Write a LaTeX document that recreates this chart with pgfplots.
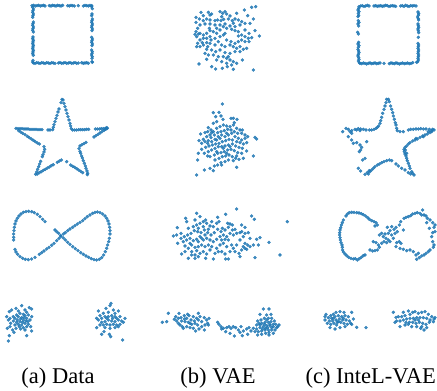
\documentclass[border=0pt]{standalone}
\usepackage{pgfplots}
\pgfplotsset{compat=1.18}
\usepackage{fontspec}
\setmainfont{Liberation Serif}
\definecolor{c0}{HTML}{1F77B4}
\pgfplotsset{
  panel/.style n args={6}{anchor=north west, at={(#1pt,391pt-#2pt)}, scale only axis,
    width=#3pt, height=#4pt, xmin=0, xmax=#5, ymin=0, ymax=#6, y dir=reverse,
    hide axis, clip=false},
  pts/.style={only marks, mark=*, mark size=1.5pt, color=c0, opacity=0.85}
}
\begin{document}
\begin{tikzpicture}
\path[use as bounding box] (0,0) rectangle (437pt,391pt);
\clip (0,0) rectangle (437pt,391pt);
% ---------- Row 1: square ----------
\begin{axis}[panel={0}{0}{145}{90}{435}{270}]
\addplot[pts] coordinates {
(96,17)(101,16)(106,18)(111,17)(116,16)(121,18)(126,17)(131,16)(135,18)(148,17)(153,18)(158,16)(163,17)(168,18)(173,16)(178,17)(183,18)(188,16)(203,17)(208,18)(213,16)(218,17)(223,18)(235,17)(250,18)(255,16)(260,17)(265,18)(270,16)(275,17)
(98,22)(100,27)(99,32)(98,37)(100,42)(99,47)(98,52)(100,66)(99,71)(98,76)(100,81)(99,86)(98,91)(100,96)(99,111)(98,116)(100,121)(99,126)(98,131)(100,136)(99,141)(98,146)(100,151)(99,156)(98,161)(100,166)(99,181)(98,186)
(100,189)(105,190)(110,188)(115,189)(120,190)(125,188)(130,189)(135,190)(140,188)(145,189)(150,190)(155,188)(160,189)(165,190)(175,189)(180,188)(185,190)(190,189)(195,188)(200,190)(205,189)(210,188)(215,190)(220,189)(225,188)(230,190)(235,189)(245,188)(250,190)(255,189)(260,188)(265,190)(277,187)
(275,20)(277,26)(276,42)(275,47)(277,57)(276,62)(275,67)(277,72)(276,77)(275,82)(277,87)(276,92)(275,112)(277,117)(276,122)(275,127)(277,132)(276,137)(275,150)(277,155)(276,160)(275,165)(277,170)(276,175)(276,185)
};
\end{axis}
\begin{axis}[panel={145}{0}{145}{90}{435}{270}]
\addplot[pts] coordinates {
(168,37)(190,37)(200,42)(225,35)(240,35)(245,42)(233,40)(275,40)(298,30)(320,22)(332,20)(308,47)(325,57)(315,70)(330,92)(343,108)(153,52)(175,47)(163,57)(153,67)(185,57)(195,60)(210,62)(218,60)(228,62)(236,58)(250,57)(262,62)(270,57)(280,60)(290,65)(300,70)(285,75)(270,80)(255,78)(240,72)(225,75)(210,75)(195,72)(180,72)(165,75)(158,85)(153,95)(150,103)(155,110)(165,100)(175,105)(185,100)(195,92)(205,95)(215,100)(225,90)(235,80)(245,85)(260,88)(270,92)(280,95)(290,105)(300,110)(310,115)(320,113)(312,125)(300,125)(290,120)(280,125)(270,130)(258,125)(245,120)(235,105)(240,100)(225,110)(210,115)(195,110)(185,115)(175,115)(165,120)(158,130)(155,140)(165,140)(175,135)(185,128)(195,130)(210,135)(220,125)(230,135)(240,140)(255,135)(265,140)(275,145)(285,140)(295,148)(305,145)(285,155)(270,155)(255,160)(240,158)(225,150)(212,155)(200,150)(185,148)(180,160)(190,165)(205,165)(220,170)(235,170)(245,175)(255,180)(265,185)(275,190)(260,195)(245,190)(230,185)(215,180)(185,178)(162,192)(200,200)(212,207)(232,205)(247,200)(265,208)(325,210)(292,180)(250,170)(198,120)(188,140)(172,128)(160,102)(193,85)(215,85)(230,50)(255,48)(265,70)(280,108)(300,90)(312,100)(195,45)(175,62)
};
\end{axis}
\begin{axis}[panel={290}{0}{147}{90}{441}{270}]
\addplot[pts] coordinates {
(207,20)(212,18)(217,17)(222,19)(227,18)(232,16)(237,18)(252,18)(257,17)(262,19)(267,18)(272,17)(277,19)(282,18)(287,16)(292,17)(297,19)(302,18)(307,17)(312,18)(317,19)(332,18)(337,17)(342,19)(347,16)(352,18)(357,19)(362,17)(367,18)(372,17)(378,18)
(206,25)(204,30)(207,35)(205,40)(206,46)(204,50)(205,62)(207,67)(204,72)(206,78)(203,97)(205,102)(206,127)(204,132)(207,137)(205,142)(204,148)(206,153)(207,158)(205,163)(204,168)(206,173)(207,178)(205,183)(208,188)
(210,190)(215,191)(220,189)(225,190)(230,192)(235,190)(240,189)(245,191)(250,190)(255,189)(260,191)(265,190)(270,189)(282,190)(298,191)(303,189)(308,190)(313,191)(318,189)(323,190)(328,192)(333,190)(338,189)(343,191)(348,190)(353,189)(358,191)(363,190)(368,188)(380,187)
(384,36)(386,41)(385,46)(383,51)(385,56)(386,60)(384,72)(385,77)(386,82)(384,87)(385,92)(386,98)(385,112)(384,130)(386,135)(385,140)(384,145)(386,150)(385,155)(384,160)(386,165)(385,170)(384,175)(385,180)(383,185)
};
\end{axis}
% ---------- Row 2: star ----------
\begin{axis}[panel={0}{90}{145}{100}{435}{300}]
\addplot[pts] coordinates {
(186,28)(183,38)(177,57)(174,66)(171,76)(168,85)(165,95)(162,104)(160,112)(158,119)
(189,30)(192,40)(195,50)(198,60)(201,70)(204,80)(207,90)(210,100)(212,108)(214,116)
(150,120)(144,120)(126,119)(120,119)(114,119)(108,118)(102,118)(96,118)(90,118)(84,117)(78,117)(72,117)(66,116)(60,116)(54,116)(48,115)
(218,120)(224,120)(230,120)(236,119)(242,119)(248,119)(254,119)(260,118)(266,118)(286,117)(292,117)(298,117)(304,116)(310,116)(316,115)(322,115)
(56,122)(62,126)(68,130)(75,134)(82,139)(88,143)(94,147)(100,151)(106,155)(112,159)(118,162)(132,170)
(134,178)(132,186)(129,194)(127,200)(122,214)(119,222)(116,230)(113,238)(110,246)(107,253)
(112,252)(118,248)(124,245)(130,241)(136,238)(142,234)(148,231)(154,227)(160,224)(172,217)(178,213)(184,210)(200,215)
(212,225)(218,229)(224,232)(230,236)(236,240)(242,244)(248,248)(262,254)
(263,250)(261,243)(258,235)(256,228)(253,220)(250,212)(247,204)(245,198)(242,190)(240,184)(237,176)
(240,168)(246,164)(252,161)(258,157)(282,141)(288,137)(294,133)(300,129)(306,125)(312,121)(318,117)(315,118)(320,113)
};
\end{axis}
\begin{axis}[panel={145}{90}{145}{100}{435}{300}]
\addplot[pts] coordinates {
(232,42)(205,68)(222,67)(212,80)(228,78)(234,88)(258,85)(265,85)(276,88)(268,98)(205,100)(215,95)(190,113)(198,120)(188,125)(167,132)(180,128)(195,135)(205,125)(215,115)(225,110)(235,105)(245,108)(255,110)(265,105)(275,115)(285,120)(292,120)(300,135)(290,130)(278,130)(268,125)(258,120)(248,118)(238,122)(228,125)(218,128)(208,135)(198,143)(185,140)(175,148)(162,152)(170,160)(180,155)(190,152)(200,155)(210,148)(220,140)(230,135)(240,140)(250,135)(260,130)(270,140)(280,145)(290,150)(300,145)(308,140)(330,142)(335,147)(305,158)(295,162)(285,158)(275,155)(262,150)(252,148)(242,152)(232,155)(222,160)(212,162)(202,165)(192,168)(182,172)(170,178)(160,190)(158,210)(178,190)(190,185)(200,180)(210,175)(220,170)(230,170)(240,168)(250,165)(262,162)(272,168)(282,172)(292,175)(305,183)(290,190)(278,188)(268,182)(258,178)(248,180)(238,185)(228,188)(218,190)(208,195)(195,200)(188,198)(210,210)(222,205)(232,200)(242,198)(252,195)(262,200)(272,205)(282,208)(295,205)(325,198)(265,212)(250,210)(240,215)(228,218)(218,225)(208,228)(195,235)(178,240)(205,242)(230,225)(275,232)(155,255)(245,130)(225,145)(235,175)(215,150)(255,170)(245,190)(200,128)(188,160)(275,198)(215,185)
};
\end{axis}
\begin{axis}[panel={290}{90}{147}{100}{441}{300}]
\addplot[pts] coordinates {
(290,28)(295,28)(288,38)(285,48)(282,58)(278,70)(275,82)(272,92)(270,100)(266,108)(262,112)
(298,35)(302,48)(305,58)(308,68)(310,78)(313,88)(316,98)(318,105)(320,115)(322,122)
(258,115)(252,118)(245,120)(238,120)(228,120)(220,118)(212,117)(205,116)(200,120)(195,118)(185,122)(175,118)(168,115)(158,125)(180,125)(210,122)
(330,125)(340,125)(355,120)(362,118)(370,118)(378,117)(385,117)(392,116)(400,117)(408,117)(418,118)(428,118)(432,120)
(425,125)(420,128)(412,132)(405,135)(398,138)(390,142)(382,147)(375,150)(368,153)(360,158)(355,162)(350,168)(345,172)(342,178)(425,122)(415,125)(400,140)(378,145)
(343,185)(345,192)(348,198)(350,205)(352,212)(355,220)(358,228)(360,235)(365,245)(368,250)(372,255)(350,190)(346,180)
(362,252)(355,248)(345,240)(335,235)(325,228)(318,222)(305,212)(298,210)(290,212)(282,215)
(275,218)(268,222)(262,225)(255,230)(250,235)(245,240)(238,242)(232,248)(225,253)(235,252)(240,245)(212,243)(205,235)
(185,150)(190,160)(200,158)(210,165)(215,172)(212,180)(208,185)(230,155)(218,210)(225,205)(185,130)(175,140)
};
\end{axis}
% ---------- Row 3: infinity ----------
\begin{axis}[panel={0}{190}{145}{90}{435}{270}]
\addplot[pts] coordinates {
(135,95)(128,88)(120,80)(112,73)(103,68)(95,65)(86,64)(78,65)(70,67)(63,72)(57,78)(52,85)(48,93)(45,102)(43,112)(42,122)(41,132)(41,142)(41,150)
(45,178)(48,186)(53,193)(60,200)(68,205)(76,208)(85,209)(95,207)(105,202)(118,193)(125,188)(132,183)(140,177)(147,172)(155,166)(162,160)(170,152)(177,145)(183,139)
(190,132)(196,128)(203,122)(210,117)(218,112)(225,107)(232,102)(240,97)(248,92)(255,86)(262,80)(270,75)(278,70)(285,67)(292,66)(300,68)(308,72)(315,78)(320,85)(324,93)(327,102)(329,112)(330,122)(330,132)(328,145)(326,155)(323,165)(320,175)(316,185)(311,195)(305,203)(298,208)(290,210)(282,209)(274,206)(266,202)(258,198)(250,193)(242,188)(234,182)(226,176)(218,170)(210,163)(203,157)(196,150)(190,144)(182,137)(176,130)(170,125)(165,120)
};
\end{axis}
\begin{axis}[panel={145}{190}{145}{90}{435}{270}]
\addplot[pts] coordinates {
(275,57)(242,73)(155,70)(122,85)(165,80)(182,90)(218,82)(320,78)(328,88)(97,113)(108,130)(85,138)(98,160)(110,192)(130,205)(150,205)(205,207)(242,207)(250,207)(285,200)(330,203)(405,195)(427,95)(372,157)(345,143)(340,165)(325,165)(335,148)(300,112)(290,105)(310,128)(295,140)(285,150)(300,160)(315,145)(275,165)(265,175)(255,185)(245,170)(235,160)(225,165)(215,175)(220,185)(210,190)(195,180)(185,192)(175,185)(165,190)(155,182)(150,195)(140,185)(130,175)(120,168)(115,155)(125,150)(135,145)(145,152)(155,148)(165,140)(175,150)(185,145)(195,150)(205,155)(215,148)(225,140)(235,135)(245,140)(255,130)(265,135)(275,130)(285,128)(262,120)(250,112)(240,120)(228,125)(218,118)(208,128)(198,135)(188,128)(178,120)(168,128)(158,125)(148,122)(138,130)(128,135)(118,140)(108,145)(95,135)(130,115)(145,110)(155,105)(165,100)(175,95)(185,100)(195,108)(205,110)(215,100)(222,95)(232,115)(248,100)(255,102)(262,105)(270,118)(290,125)(300,130)(308,165)(300,175)(295,170)(290,180)(305,178)(315,170)(282,190)(270,185)(260,165)(250,150)(240,148)(230,150)(200,170)(190,165)(180,170)(170,165)(160,170)(150,172)(140,165)(135,160)(160,155)(170,145)(180,135)(190,118)(200,95)(150,90)(125,95)(160,115)(175,110)(230,185)(240,192)(140,195)(160,200)(120,185)(182,205)
};
\end{axis}
\begin{axis}[panel={290}{190}{147}{90}{441}{270}]
\addplot[pts] coordinates {
(168,78)(172,72)(178,68)(185,67)(192,67)(200,68)(207,69)(214,71)(220,74)(227,78)(233,83)(238,88)(245,92)(252,95)(258,98)(262,105)(255,108)(160,90)(157,98)(154,105)(152,113)(150,120)(149,128)(149,135)(150,143)(151,150)(153,158)(156,165)(157,172)(158,180)(160,186)(165,192)(170,197)(176,202)(183,205)(190,207)(196,206)(202,210)(208,206)(214,202)(220,197)(225,195)
(240,180)(248,183)(255,182)(262,180)(268,172)(265,165)(250,155)(258,158)(275,160)(282,155)(290,158)(295,150)(288,145)(280,140)(285,132)(275,130)(268,135)(292,112)(305,110)(312,118)(300,122)(295,130)(305,135)(315,130)(322,125)(318,112)(328,105)(332,95)(342,85)(320,158)(328,155)(333,160)(340,120)(310,145)(300,155)
(348,82)(355,80)(362,77)(368,72)(375,70)(382,68)(390,70)(398,60)(395,75)(402,75)(408,78)(412,85)(420,90)(428,98)(435,105)(432,112)(435,125)(428,128)(425,140)(428,155)(432,165)(430,172)(420,180)(415,185)(408,190)(402,195)(395,198)(388,203)(380,208)(378,195)(385,190)(370,185)(360,180)(350,182)(340,178)(330,175)(318,170)(418,115)(410,98)
};
\end{axis}
% ---------- Row 4: two clusters ----------
\begin{axis}[panel={0}{285}{145}{60}{435}{180}]
\addplot[pts] coordinates {
(65,62)(48,70)(35,75)(28,80)(55,78)(75,75)(88,68)(95,72)(80,82)(70,88)(60,85)(50,90)(40,95)(30,100)(20,95)(25,105)(45,100)(55,95)(65,98)(75,92)(85,90)(95,95)(90,105)(80,100)(70,105)(60,110)(50,112)(40,108)(32,115)(45,120)(55,118)(65,120)(75,115)(85,118)(92,125)(80,125)(70,128)(58,125)(48,130)(38,135)(30,125)(22,130)(42,142)(75,135)(95,138)(80,152)(28,152)(25,168)(62,132)(68,112)(78,108)(52,105)(62,102)(72,98)(84,110)
(333,55)(330,62)(318,70)(295,78)(340,75)(355,78)(345,85)(325,82)(310,85)(300,92)(290,100)(305,100)(315,95)(325,95)(335,92)(345,95)(360,95)(375,100)(365,108)(355,105)(345,110)(335,108)(325,105)(315,110)(305,112)(295,105)(300,120)(310,120)(320,118)(330,120)(340,118)(350,120)(360,118)(370,112)(290,128)(315,128)(330,130)(345,128)(355,125)(305,148)(328,148)(332,155)(368,165)(320,100)(338,100)(350,100)(312,140)
};
\end{axis}
\begin{axis}[panel={145}{285}{145}{60}{435}{180}]
\addplot[pts] coordinates {
(52,112)(65,110)(70,85)(88,103)(95,108)(102,85)(100,115)(108,98)(112,125)(118,92)(125,100)(132,92)(138,105)(145,95)(155,100)(160,85)(165,95)(170,110)(178,98)(185,105)(192,100)(188,115)(180,120)(170,125)(158,120)(150,115)(140,118)(130,112)(120,110)(110,108)(105,120)(115,130)(125,125)(135,128)(145,130)(152,138)(162,132)(178,135)(190,120)(128,88)(148,108)(160,105)(118,102)(135,115)(100,100)(92,95)
(218,112)(222,118)(228,125)(235,130)(245,128)(252,125)(258,130)(265,125)(272,128)(242,140)(255,145)(268,153)(280,135)(288,125)(295,138)(305,132)(312,128)(318,138)(325,130)(292,152)(308,148)(230,132)(285,142)
(355,72)(372,72)(345,88)(365,90)(378,88)(380,100)(370,100)(358,100)(348,105)(338,108)(335,120)(342,115)(350,115)(360,112)(370,112)(378,110)(388,108)(392,118)(402,120)(395,128)(385,125)(375,122)(365,122)(355,125)(345,128)(335,132)(340,140)(350,138)(360,135)(370,135)(380,135)(390,135)(385,145)(372,142)(362,145)(350,148)(338,150)(330,140)(398,125)(368,128)(358,118)(375,118)(385,118)(380,128)(352,132)(365,105)(372,150)(345,120)(362,130)
};
\end{axis}
\begin{axis}[panel={290}{285}{147}{60}{441}{180}]
\addplot[pts] coordinates {
(108,88)(122,92)(130,88)(138,82)(150,80)(162,82)(185,82)(115,98)(125,100)(135,95)(145,92)(155,95)(165,92)(175,95)(190,102)(105,105)(118,108)(128,108)(138,105)(148,102)(158,105)(168,105)(178,108)(112,115)(122,118)(132,115)(142,112)(152,112)(162,115)(172,118)(182,115)(120,128)(135,132)(150,128)(165,125)(200,127)(228,128)(140,120)(130,100)(160,100)(145,110)(185,118)(105,95)
(310,82)(325,95)(318,97)(335,95)(345,92)(355,78)(340,82)(360,88)(368,82)(375,80)(385,85)(395,82)(405,80)(415,88)(425,95)(432,102)(420,105)(410,100)(400,98)(390,98)(380,98)(370,100)(360,100)(350,102)(340,105)(330,108)(320,108)(348,112)(358,112)(368,112)(378,115)(388,112)(398,115)(408,118)(418,112)(430,110)(435,98)(315,112)(330,125)(345,120)(365,125)(380,125)(395,125)(402,135)(392,130)(410,128)(375,105)(385,105)(355,118)
};
\end{axis}
% ---------- Labels ----------
\node[font=\rmfamily\fontsize{22.5}{26}\selectfont, anchor=center] at (58pt,13pt) {(a) Data};
\node[font=\rmfamily\fontsize{22.5}{26}\selectfont, anchor=center] at (218pt,13pt) {(b) VAE};
\node[font=\rmfamily\fontsize{22.5}{26}\selectfont, anchor=east, inner sep=0pt] at (436pt,13pt) {(c) InteL-VAE};
\end{tikzpicture}
\end{document}
